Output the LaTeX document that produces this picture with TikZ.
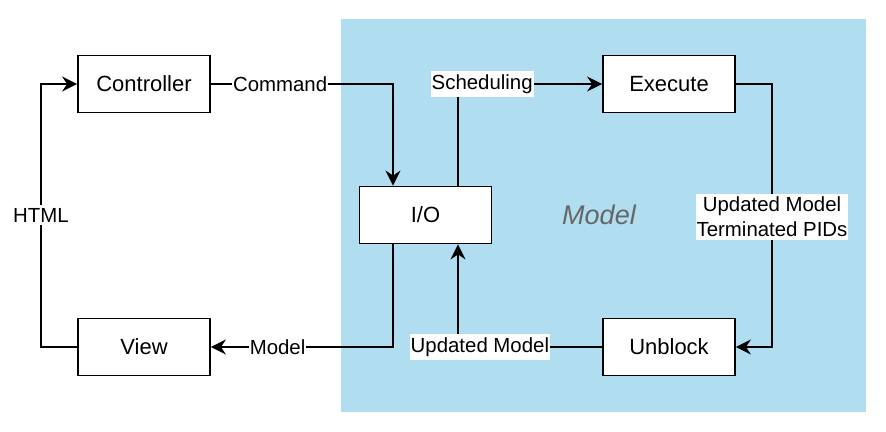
\documentclass[tikz,border=0pt]{standalone}
\usepackage{fontspec}
\setmainfont{Liberation Sans}
\usepackage{xcolor}
\definecolor{colorModel}{HTML}{B1DDF0}
\definecolor{colorModelText}{HTML}{666666}
\usepackage{tikz}
\usetikzlibrary{arrows.meta, positioning}
\tikzset{block/.style={draw, fill=white, line width=0.9pt, minimum width=66pt, minimum height=28.5pt, inner sep=0pt, font=\fontsize{11}{13}\selectfont}}
\tikzset{flowlabel/.style={fill=white, inner xsep=0.5pt, inner ysep=1.5pt, font=\fontsize{10.2}{12.5}\selectfont, align=center}}

\begin{document}
\begin{tikzpicture}[x=0.5pt, y=-0.5pt, >={Stealth[length=7.5pt, width=7.5pt, inset=2.5pt]}, line width=1pt, node distance=131.5pt, on grid]
\useasboundingbox (0,0) rectangle (886,432);
\fill [colorModel] (341,19) rectangle (866,412);
\node [colorModelText, font=\fontsize{13.5}{16}\selectfont\itshape] (modeltext) at (599,215) {Model};
\node [block] (ctrl) at (144,84) {Controller};
\node [block, below=of ctrl] (view) {View};
\node [block] (io) at (425.5,215) {I/O};
\node [block] (exec) at (669,84) {Execute};
\node [block, below=of exec] (unblock) {Unblock};
\coordinate (html) at (41,215);
\coordinate (terminated) at (772,217);
\draw [->] (view.west) -| (html) node [flowlabel] {HTML} |- (ctrl.west);
\draw [->] (ctrl.east) -| ([xshift=-16.25pt]io.north) node [flowlabel, pos=0.19] {Command};
\draw [->] ([xshift=16.25pt]io.north) |- (exec.west) node [flowlabel, pos=0.584] {Scheduling};
\draw [->] (exec.east) -| (terminated) node [flowlabel] {Updated Model\\Terminated PIDs} |- (unblock.east);
\draw [->] (unblock.west) -| ([xshift=16.25pt]io.south) node [flowlabel, pos=0.424] {Updated Model};
\draw [->] ([xshift=-16.25pt]io.south) |- (view.east) node [flowlabel, pos=0.817] {Model};
\end{tikzpicture}
\end{document}
